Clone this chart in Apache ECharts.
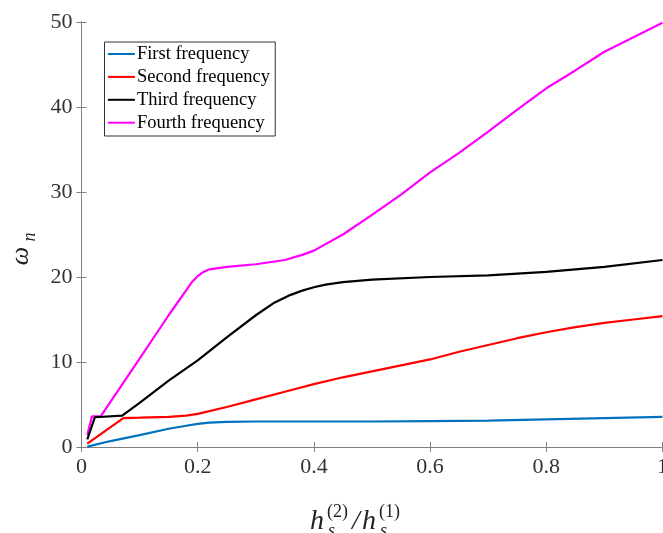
<!DOCTYPE html>
<html>
<head>
<meta charset="utf-8">
<script src="https://cdn.jsdelivr.net/npm/echarts@6/dist/echarts.min.js"></script>
<style>html,body{margin:0;padding:0;background:#fff}#c{width:663px;height:533px}</style>
</head>
<body>
<div id="c"></div>
<script>
var seriesNames = ['First frequency', 'Second frequency', 'Third frequency', 'Fourth frequency'];
var xTicks = [0, 0.2, 0.4, 0.6, 0.8, 1];
var yTicks = [0, 10, 20, 30, 40, 50];

var firstX  = [0.01, 0.05, 0.1, 0.15, 0.18, 0.2, 0.22, 0.25, 0.3, 0.4, 0.5, 0.6, 0.7, 0.8, 0.9, 1.0];
var firstY  = [0.05, 0.7, 1.4, 2.15, 2.5, 2.72, 2.86, 2.95, 3.0, 3.0, 3.0, 3.05, 3.1, 3.25, 3.4, 3.55];

var secondX = [0.01, 0.072, 0.1, 0.15, 0.18, 0.2, 0.25, 0.3, 0.35, 0.4, 0.45, 0.5, 0.55, 0.6, 0.65, 0.7, 0.75, 0.8, 0.85, 0.9, 0.95, 1.0];
var secondY = [0.4, 3.4, 3.45, 3.55, 3.7, 3.9, 4.7, 5.6, 6.5, 7.4, 8.2, 8.9, 9.6, 10.3, 11.2, 12.0, 12.8, 13.5, 14.1, 14.6, 15.0, 15.4];

var thirdX  = [0.01, 0.023, 0.07, 0.1, 0.15, 0.2, 0.25, 0.3, 0.33, 0.36, 0.38, 0.4, 0.42, 0.45, 0.5, 0.6, 0.7, 0.8, 0.9, 1.0];
var thirdY  = [0.9, 3.5, 3.7, 5.2, 7.8, 10.2, 12.9, 15.5, 16.9, 17.9, 18.4, 18.8, 19.1, 19.4, 19.7, 20.0, 20.2, 20.6, 21.2, 22.0];

var fourthX = [0.01, 0.018, 0.033, 0.1, 0.15, 0.19, 0.2, 0.21, 0.22, 0.25, 0.3, 0.35, 0.38, 0.4, 0.45, 0.5, 0.55, 0.6, 0.65, 0.7, 0.75, 0.8, 0.85, 0.9, 0.95, 1.0];
var fourthY = [1.4, 3.6, 3.6, 10.4, 15.5, 19.4, 20.1, 20.6, 20.9, 21.2, 21.5, 22.0, 22.6, 23.1, 25.0, 27.3, 29.7, 32.3, 34.6, 37.1, 39.7, 42.2, 44.3, 46.5, 48.2, 49.9];

var colors = ['#0072BD', '#FF0000', '#000000', '#FF00FF'];

function pairs(xs, ys) { return xs.map(function (x, i) { return [x, ys[i]]; }); }
var allX = [firstX, secondX, thirdX, fourthX];
var allY = [firstY, secondY, thirdY, fourthY];

var FONT = '"Liberation Serif", "Times New Roman", serif';
var axisGray = '#808080';

var chart = echarts.init(document.getElementById('c'), null, { renderer: 'canvas' });

var series = seriesNames.map(function (n, i) {
  return {
    name: n, type: 'line', xAxisIndex: 0, yAxisIndex: 0,
    data: pairs(allX[i], allY[i]),
    showSymbol: false, symbol: 'none', smooth: false,
    lineStyle: { color: colors[i], width: 2.2 },
    itemStyle: { color: colors[i] },
    z: 3 + (3 - i)
  };
});

chart.setOption({
  animation: false,
  backgroundColor: '#fff',
  grid: { left: 81.5, top: 22, width: 581, height: 425, containLabel: false, outerBoundsMode: 'none' },
  legend: {
    data: seriesNames,
    orient: 'vertical', left: 104.5, top: 42,
    backgroundColor: '#fff', borderColor: '#333', borderWidth: 1,
    padding: [2.5, 5.3, 3.8, 3.4],
    icon: 'rect', itemWidth: 27, itemHeight: 2, itemGap: 3.9,
    textStyle: { fontFamily: FONT, fontSize: 18.5, color: '#000', lineHeight: 19, padding: [0, 0, 0, -3] }
  },
  xAxis: [{
    type: 'value', min: 0, max: 1, interval: 0.2, position: 'bottom',
    axisLine: { show: true, lineStyle: { color: axisGray, width: 1 } },
    axisTick: { show: true, inside: true, length: 5, lineStyle: { color: axisGray } },
    splitLine: { show: false },
    axisLabel: { fontFamily: FONT, fontSize: 22, color: '#333', margin: 9,
      formatter: function (v) { return String(+v.toFixed(1)); } }
  }, {
    type: 'value', min: 0, max: 1, interval: 0.2, position: 'top',
    axisLine: { show: true, lineStyle: { color: axisGray, width: 1 } },
    axisTick: { show: true, inside: true, length: 5, lineStyle: { color: axisGray } },
    splitLine: { show: false }, axisLabel: { show: false }
  }],
  yAxis: [{
    type: 'value', min: 0, max: 50, interval: 10, position: 'left',
    axisLine: { show: true, lineStyle: { color: axisGray, width: 1 } },
    axisTick: { show: true, inside: true, length: 5, lineStyle: { color: axisGray } },
    splitLine: { show: false },
    axisLabel: { fontFamily: FONT, fontSize: 22, color: '#333', margin: 9 }
  }, {
    type: 'value', min: 0, max: 50, interval: 10, position: 'right',
    axisLine: { show: true, lineStyle: { color: axisGray, width: 1 } },
    axisTick: { show: true, inside: true, length: 5, lineStyle: { color: axisGray } },
    splitLine: { show: false }, axisLabel: { show: false }
  }],
  graphic: [
    { type: 'text', x: 21, y: 256, rotation: Math.PI / 2,
      style: { text: 'ω', font: 'italic 26px ' + FONT, fill: '#222', align: 'center', verticalAlign: 'middle' } },
    { type: 'text', x: 30, y: 237, rotation: Math.PI / 2,
      style: { text: 'n', font: 'italic 18px ' + FONT, fill: '#222', align: 'center', verticalAlign: 'middle' } },
    { type: 'text', x: 310, y: 522,
      style: { text: 'h', font: 'italic 28px ' + FONT, fill: '#222', align: 'left', verticalAlign: 'middle' } },
    { type: 'text', x: 327, y: 512,
      style: { text: '(2)', font: '18px ' + FONT, fill: '#222', align: 'left', verticalAlign: 'middle' } },
    { type: 'text', x: 328, y: 531,
      style: { text: 's', font: 'italic 18px ' + FONT, fill: '#222', align: 'left', verticalAlign: 'middle' } },
    { type: 'text', x: 352, y: 522,
      style: { text: '/', font: 'italic 28px ' + FONT, fill: '#222', align: 'left', verticalAlign: 'middle' } },
    { type: 'text', x: 362, y: 522,
      style: { text: 'h', font: 'italic 28px ' + FONT, fill: '#222', align: 'left', verticalAlign: 'middle' } },
    { type: 'text', x: 379, y: 512,
      style: { text: '(1)', font: '18px ' + FONT, fill: '#222', align: 'left', verticalAlign: 'middle' } },
    { type: 'text', x: 380, y: 531,
      style: { text: 's', font: 'italic 18px ' + FONT, fill: '#222', align: 'left', verticalAlign: 'middle' } }
  ],
  series: series
});
</script>
</body>
</html>
